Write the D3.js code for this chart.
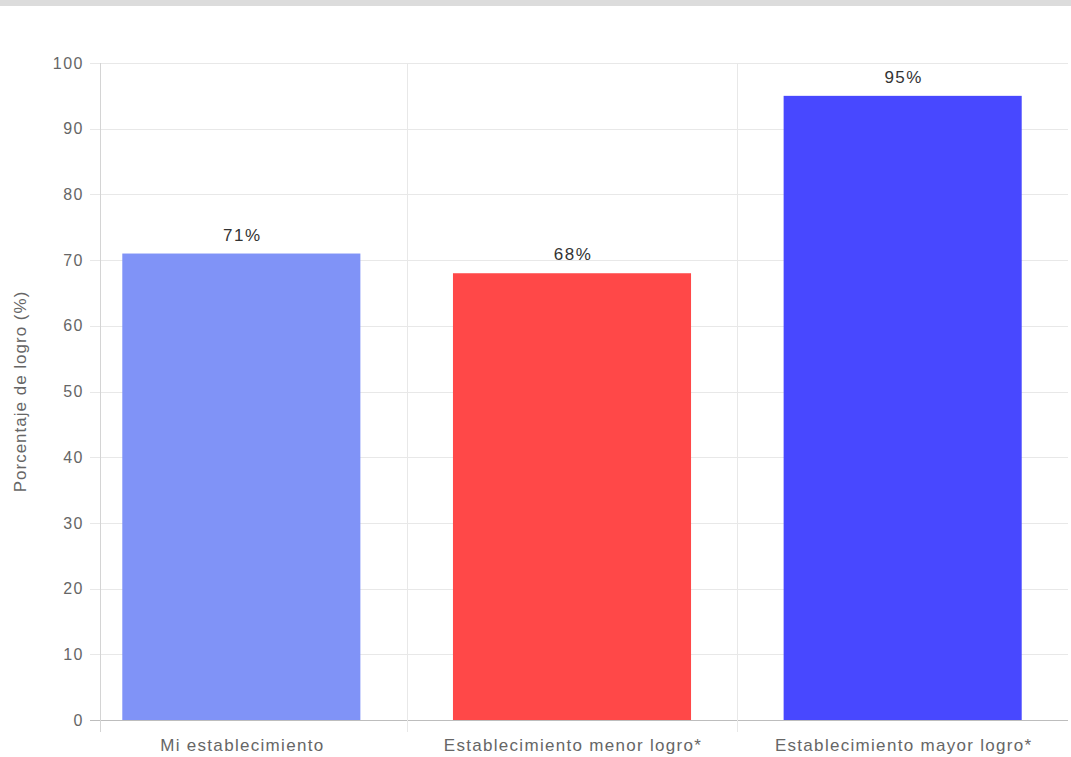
<!DOCTYPE html>
<html>
<head>
<meta charset="utf-8">
<script src="https://cdn.jsdelivr.net/npm/d3@7/dist/d3.min.js"></script>
<style>
  html, body { margin: 0; padding: 0; background: #fff; }
  svg { display: block; }
  text { font-family: "Liberation Sans", Arial, sans-serif; }
</style>
</head>
<body>
<svg id="chart" width="1071" height="757"></svg>
<script>
const categories = ["Mi establecimiento", "Establecimiento menor logro*", "Establecimiento mayor logro*"];
const values = [71, 68, 95];
const barColors = ["#8093f7", "#ff4848", "#4848ff"];
const yTicks = [0, 10, 20, 30, 40, 50, 60, 70, 80, 90, 100];
const yTitle = "Porcentaje de logro (%)";

const svg = d3.select("#chart");
const W = 1071, H = 757;

// top gray band
svg.append("rect").attr("x", 0).attr("y", 0).attr("width", W).attr("height", 6).attr("fill", "#dcdcdc");

const axisLeft = 100, plotRight = 1068;
const y = d3.scaleLinear().domain([0, 100]).range([720, 63]);
const x = d3.scaleBand().domain(categories).range([76, plotRight]).paddingInner(0.28).paddingOuter(0.14);
const step = x.step();

// horizontal gridlines
svg.append("g").selectAll("line").data(yTicks).join("line")
  .attr("x1", axisLeft - 10).attr("x2", plotRight)
  .attr("y1", d => Math.round(y(d)) + 0.5).attr("y2", d => Math.round(y(d)) + 0.5)
  .attr("stroke", d => d === 0 ? "#bdbdbd" : "#e8e8e8").attr("stroke-width", 1);

// vertical gridlines (category boundaries)
const bounds = categories.slice(1).map(c => x(c) - step * 0.14);
svg.append("g").selectAll("line").data(bounds).join("line")
  .attr("x1", d => Math.round(d) + 0.5).attr("x2", d => Math.round(d) + 0.5)
  .attr("y1", y(100)).attr("y2", y(0) + 12)
  .attr("stroke", "#e8e8e8");

// left axis line
svg.append("line").attr("x1", axisLeft + 0.5).attr("x2", axisLeft + 0.5)
  .attr("y1", y(100)).attr("y2", y(0) + 12).attr("stroke", "#d4d4d4");

// y tick labels
svg.append("g").selectAll("text").data(yTicks).join("text")
  .attr("x", 84).attr("y", d => y(d)).attr("dy", "0.35em")
  .attr("text-anchor", "end").attr("font-size", 16).attr("letter-spacing", 1.5).attr("fill", "#666")
  .text(d => d);

// bars
svg.append("g").selectAll("rect").data(values).join("rect")
  .attr("x", (d, i) => x(categories[i]))
  .attr("width", x.bandwidth())
  .attr("y", d => y(d))
  .attr("height", d => y(0) - y(d))
  .attr("fill", (d, i) => barColors[i]);

// value labels
svg.append("g").selectAll("text").data(values).join("text")
  .attr("x", (d, i) => x(categories[i]) + x.bandwidth() / 2 + 1)
  .attr("y", d => y(d) - 13)
  .attr("text-anchor", "middle").attr("font-size", 17).attr("letter-spacing", 1.5).attr("fill", "#333")
  .text(d => d + "%");

// x labels
svg.append("g").selectAll("text").data(categories).join("text")
  .attr("x", d => x(d) + x.bandwidth() / 2 + 1)
  .attr("y", 751)
  .attr("text-anchor", "middle").attr("font-size", 17).attr("letter-spacing", 1.3).attr("fill", "#666")
  .text(d => d);

// y title
svg.append("text")
  .attr("transform", `translate(26, ${(y(0) + y(100)) / 2}) rotate(-90)`)
  .attr("text-anchor", "middle").attr("font-size", 17).attr("letter-spacing", 1).attr("fill", "#666")
  .text(yTitle);
</script>
</body>
</html>
